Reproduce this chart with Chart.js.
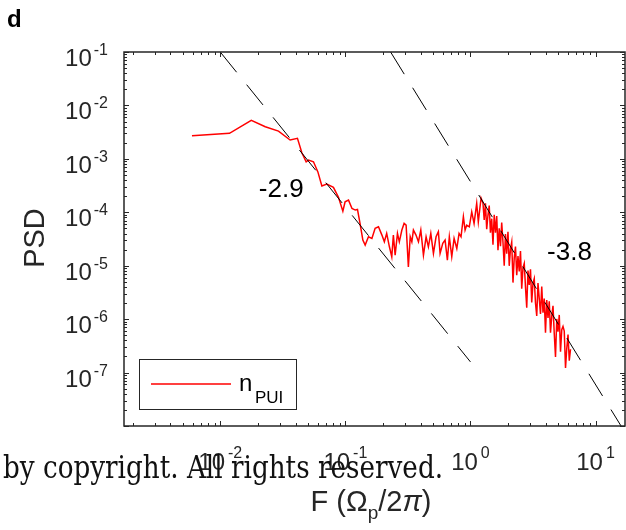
<!DOCTYPE html>
<html>
<head>
<meta charset="utf-8">
<script src="https://cdn.jsdelivr.net/npm/chart.js@4.4.1/dist/chart.umd.min.js"></script>
<style>
  body { margin: 0; background: #fff; }
  canvas { display: block; }
</style>
</head>
<body>
<canvas id="graficoPSD" width="626" height="530"></canvas>
<script>
// frecuencias en unidades de Omega_p/2pi
const freq = [
  0.00594, 0.01185, 0.0177, 0.0229, 0.0292, 0.0362, 0.0414, 0.0449, 0.0486, 0.0507,
  0.0556, 0.0603, 0.0649, 0.0711, 0.0803, 0.0881, 0.0955,
  0.0995, 0.106, 0.113, 0.120, 0.125, 0.131, 0.138, 0.144, 0.153, 0.163,
  0.173, 0.184, 0.196, 0.205, 0.214, 0.225, 0.235, 0.242, 0.250, 0.261,
  0.270, 0.283, 0.295, 0.306, 0.319, 0.330, 0.340, 0.350, 0.367, 0.384,
  0.401, 0.421, 0.442, 0.461, 0.482, 0.506, 0.531, 0.554, 0.572, 0.601,
  0.627, 0.654, 0.678, 0.709, 0.740, 0.778, 0.811, 0.841, 0.878, 0.906,
  0.934, 0.979, 1.024, 1.069, 1.122, 1.156, 1.216,
  1.259, 1.288, 1.318, 1.349, 1.380, 1.413, 1.445, 1.479, 1.514, 1.549,
  1.585, 1.622, 1.660, 1.698, 1.738, 1.778, 1.820, 1.862, 1.905, 1.950,
  1.995, 2.042, 2.089, 2.138, 2.188, 2.239, 2.291, 2.344, 2.399, 2.455,
  2.512, 2.570, 2.630, 2.692, 2.754, 2.818, 2.884, 2.951, 3.020, 3.090,
  3.162, 3.236, 3.311, 3.388, 3.467, 3.548, 3.631, 3.715, 3.802, 3.890,
  3.981, 4.074, 4.169, 4.266, 4.365, 4.467, 4.571, 4.677, 4.786, 4.898,
  5.012, 5.129, 5.248, 5.370, 5.495, 5.623, 5.754, 5.888, 6.026, 6.166, 6.310
];

// PSD de n_PUI
const psdPUI = [
  2.71e-3, 3.0e-3, 5.26e-3, 4.0e-3, 3.3e-3, 2.25e-3, 2.42e-3, 1.30e-3, 8.8e-4, 9.5e-4,
  8.8e-4, 5.7e-4, 3.1e-4, 3.37e-4, 2.92e-4, 1.9e-4, 1.05e-4,
  1.57e-4, 1.69e-4, 1.18e-4, 1.10e-4, 1.13e-4, 6.19e-5, 3.01e-5, 2.43e-5, 3.48e-5, 3.24e-5,
  5.0e-5, 5.35e-5, 3.74e-5, 2.80e-5, 4.03e-5, 2.26e-5, 1.47e-5, 3.74e-5, 1.58e-5, 4.03e-5,
  2.80e-5, 4.65e-5, 6.19e-5, 5.75e-5, 9.5e-6, 3.48e-5, 2.80e-5, 4.65e-5, 3.74e-5, 2.80e-5,
  4.65e-5, 1.58e-5, 3.48e-5, 2.26e-5, 4.03e-5, 1.70e-5, 3.48e-5, 4.32e-5, 1.70e-5, 2.62e-5,
  3.01e-5, 1.27e-5, 3.48e-5, 1.47e-5, 3.24e-5, 2.10e-5, 4.03e-5, 3.48e-5, 8.24e-5, 4.65e-5,
  5.75e-5, 5.35e-5, 1.02e-4, 6.19e-5, 1.47e-4, 6.64e-5, 1.85e-4,
  1.50e-4, 7.21e-5, 1.48e-4, 4.81e-5, 8.79e-5, 1.34e-4, 4.15e-5, 7.59e-5, 2.47e-5, 9.0e-5,
  4.13e-5, 8.47e-5, 1.95e-5, 5.04e-5, 2.31e-5, 6.40e-5, 2.74e-5, 1.00e-5, 3.91e-5, 1.67e-5,
  4.33e-5, 9.95e-6, 2.04e-5, 2.77e-5, 4.83e-6, 1.40e-5, 2.28e-5, 6.61e-6, 1.52e-5, 7.83e-6,
  1.89e-5, 3.70e-6, 9.12e-6, 1.10e-5, 4.02e-6, 1.64e-6, 8.09e-6, 4.37e-6, 8.55e-6, 2.06e-6,
  4.74e-6, 5.73e-6, 2.0e-6, 1.15e-6, 4.72e-6, 2.43e-6, 1.25e-6, 4.07e-6, 1.32e-6, 2.42e-6,
  5.57e-7, 2.28e-6, 1.05e-6, 2.15e-6, 5.55e-7, 1.14e-6, 1.77e-6, 5.37e-7, 1.96e-7, 1.01e-6,
  5.83e-7, 1.20e-6, 2.45e-7, 6.34e-7, 7.31e-7, 5.97e-7, 1.22e-7, 2.82e-7, 5.15e-7, 1.67e-7, 2.73e-7
];

// ajustes de ley de potencia (extremos de cada recta)
const ajusteBajoX = [0.01, 1];
const ajusteBajoY = [0.1, 1.585e-7];
const ajusteAltoX = [0.23, 16];
const ajusteAltoY = [0.1, 1.0e-8];
const pendientes = ["-2.9", "-3.8"];
const pendientesX = [0.0307, 6.19];
const pendientesY = [1.93e-4, 1.27e-5];

const xTicks = [0.01, 0.1, 1, 10];
const xTickExp = ["-2", "-1", "0", "1"];
const yTicks = [1e-1, 1e-2, 1e-3, 1e-4, 1e-5, 1e-6, 1e-7];
const yTickExp = ["-1", "-2", "-3", "-4", "-5", "-6", "-7"];

const puntos = [];
for (let i = 0; i < Math.min(freq.length, psdPUI.length); i++) {
  puntos.push({ x: freq[i], y: psdPUI[i] });
}
const recta1 = ajusteBajoX.map((v, i) => ({ x: v, y: ajusteBajoY[i] }));
const recta2 = ajusteAltoX.map((v, i) => ({ x: v, y: ajusteAltoY[i] }));

const colorEje = "#262626";
const fuente = "'Liberation Sans', Arial, Helvetica, sans-serif";

// ejes al estilo matlab: caja, ticks hacia dentro, etiquetas 10^n
const marco = {
  id: "marco",
  afterDatasetsDraw(chart) {
    const ctx = chart.ctx;
    const a = chart.chartArea;
    const sx = chart.scales.x;
    const sy = chart.scales.y;
    ctx.save();

    // pendientes
    ctx.fillStyle = "#000";
    ctx.font = "26px " + fuente;
    ctx.textAlign = "center";
    ctx.textBaseline = "alphabetic";
    for (let i = 0; i < pendientes.length; i++) {
      ctx.fillText(pendientes[i], sx.getPixelForValue(pendientesX[i]), sy.getPixelForValue(pendientesY[i]));
    }

    // leyenda
    ctx.fillStyle = "#fff";
    ctx.fillRect(140, 360, 156, 49);
    ctx.strokeStyle = colorEje;
    ctx.lineWidth = 1;
    ctx.strokeRect(139.5, 359.5, 157, 50);
    ctx.strokeStyle = "#ff0000";
    ctx.lineWidth = 1.3;
    ctx.beginPath();
    ctx.moveTo(151, 384);
    ctx.lineTo(231, 384);
    ctx.stroke();
    ctx.fillStyle = "#000";
    ctx.textAlign = "left";
    ctx.font = "24px " + fuente;
    ctx.fillText("n", 239, 391);
    ctx.font = "17px " + fuente;
    ctx.fillText("PUI", 255, 403);

    // caja
    ctx.strokeStyle = colorEje;
    ctx.lineWidth = 1.5;
    ctx.strokeRect(a.left, a.top, a.right - a.left, a.bottom - a.top);

    // ticks
    ctx.lineWidth = 1;
    ctx.beginPath();
    for (let n = -3; n <= 1; n++) {
      for (let k = 1; k <= 9; k++) {
        const v = k * Math.pow(10, n);
        if (v < sx.min || v > sx.max) continue;
        const px = Math.round(sx.getPixelForValue(v)) + 0.5;
        const largo = k === 1 ? 5 : 3;
        ctx.moveTo(px, a.bottom);
        ctx.lineTo(px, a.bottom - largo);
        ctx.moveTo(px, a.top);
        ctx.lineTo(px, a.top + largo);
      }
    }
    for (let n = -8; n <= -1; n++) {
      for (let k = 1; k <= 9; k++) {
        const v = k * Math.pow(10, n);
        if (v < sy.min * 0.999 || v > sy.max * 1.001) continue;
        const py = Math.round(sy.getPixelForValue(v)) + 0.5;
        const largo = k === 1 ? 5 : 3;
        ctx.moveTo(a.left, py);
        ctx.lineTo(a.left + largo, py);
        ctx.moveTo(a.right, py);
        ctx.lineTo(a.right - largo, py);
      }
    }
    ctx.stroke();

    // etiquetas de los ticks
    ctx.fillStyle = colorEje;
    ctx.textAlign = "left";
    for (let i = 0; i < yTicks.length; i++) {
      const py = sy.getPixelForValue(yTicks[i]);
      ctx.font = "16px " + fuente;
      const wExp = ctx.measureText(yTickExp[i]).width;
      ctx.fillText(yTickExp[i], 108 - wExp, py + 3);
      ctx.font = "24px " + fuente;
      const wBase = ctx.measureText("10").width;
      ctx.fillText("10", 108 - wExp - 2 - wBase, py + 14);
    }
    for (let i = 0; i < xTicks.length; i++) {
      const px = sx.getPixelForValue(xTicks[i]);
      ctx.font = "16px " + fuente;
      const wExp = ctx.measureText(xTickExp[i]).width;
      ctx.font = "24px " + fuente;
      const wBase = ctx.measureText("10").width;
      const x0 = px - (wBase + 3 + wExp) / 2;
      ctx.fillText("10", x0, 470);
      ctx.font = "16px " + fuente;
      ctx.fillText(xTickExp[i], x0 + wBase + 3, 458);
    }

    // titulos de ejes
    ctx.fillStyle = colorEje;
    const partes = [
      { t: "F (\u03A9", f: "29px " + fuente, dy: 0 },
      { t: "p", f: "19px " + fuente, dy: 8 },
      { t: "/2", f: "29px " + fuente, dy: 0 },
      { t: "\u03C0", f: "italic 29px " + fuente, dy: 0 },
      { t: ")", f: "29px " + fuente, dy: 0 }
    ];
    let total = 0;
    partes.forEach(p => { ctx.font = p.f; p.w = ctx.measureText(p.t).width; total += p.w; });
    let xx = 371 - total / 2;
    partes.forEach(p => { ctx.font = p.f; ctx.fillText(p.t, xx, 511 + p.dy); xx += p.w; });

    ctx.save();
    ctx.translate(44, 238);
    ctx.rotate(-Math.PI / 2);
    ctx.textAlign = "center";
    ctx.font = "29px " + fuente;
    ctx.fillText("PSD", 0, 0);
    ctx.restore();

    // letra del panel
    ctx.fillStyle = "#000";
    ctx.textAlign = "left";
    ctx.font = "bold 24px " + fuente;
    ctx.fillText("d", 7, 27);

    // marca de agua sobre la figura
    ctx.fillStyle = "#111";
    ctx.font = "31px 'DejaVu Serif Condensed', 'DejaVu Serif', serif";
    ctx.fillText("by copyright. All rights reserved.", 3, 478, 440);

    ctx.restore();
  }
};

const grafica = document.getElementById("graficoPSD");

new Chart(grafica, {
  type: "line",
  data: {
    datasets: [
      {
        label: "ajuste -2.9",
        data: recta1,
        borderColor: "#000",
        borderWidth: 1,
        borderDash: [26, 16],
        pointRadius: 0,
        tension: 0
      },
      {
        label: "ajuste -3.8",
        data: recta2,
        borderColor: "#000",
        borderWidth: 1,
        borderDash: [26, 16],
        pointRadius: 0,
        tension: 0
      },
      {
        label: "n_PUI",
        data: puntos,
        borderColor: "#ff0000",
        borderWidth: 1.5,
        pointRadius: 0,
        tension: 0
      }
    ]
  },
  options: {
    responsive: false,
    animation: false,
    devicePixelRatio: 1,
    layout: { padding: { left: 124, top: 52, right: 1, bottom: 104 } },
    plugins: {
      legend: { display: false },
      tooltip: { enabled: false }
    },
    scales: {
      x: { type: "logarithmic", min: 0.0017, max: 17.2, display: false },
      y: { type: "logarithmic", min: 1e-8, max: 1e-1, display: false }
    }
  },
  plugins: [marco]
});
</script>
</body>
</html>
